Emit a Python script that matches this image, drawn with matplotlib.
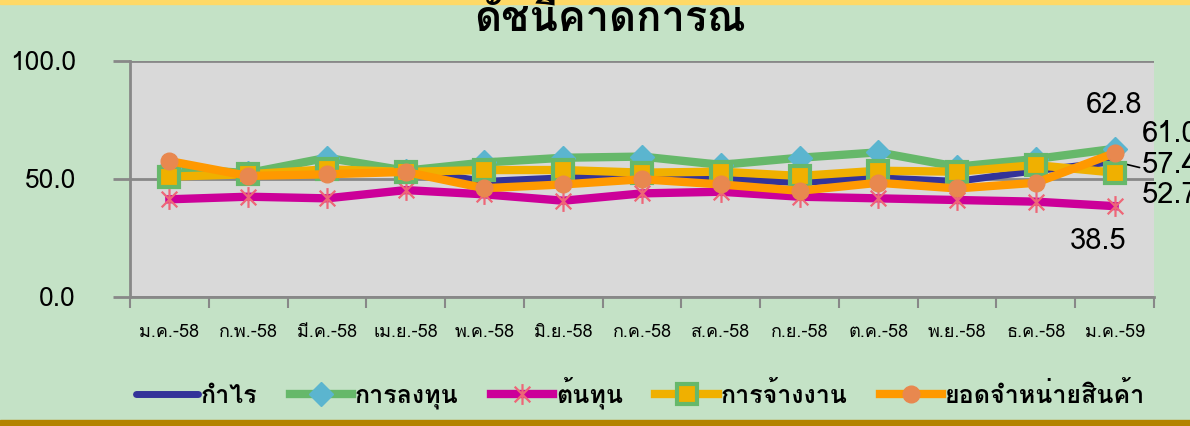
import numpy as np
import matplotlib
matplotlib.use('Agg')
import matplotlib.pyplot as plt
from matplotlib import font_manager
from matplotlib.ft2font import FT2Font
from matplotlib.path import Path
from matplotlib.patches import Rectangle

# pick a font that has Thai glyphs
thai_font = None
cands = []
for f in font_manager.fontManager.ttflist:
    try:
        if 0x0E01 in FT2Font(f.fname).get_charmap():
            cands.append(f.name)
    except Exception:
        pass
for pref in ['Tahoma', 'Loma', 'Noto Sans Thai Looped', 'Noto Sans Thai', 'Garuda', 'Sarabun']:
    if pref in cands:
        thai_font = pref
        break
if thai_font is None and cands:
    thai_font = cands[0]
fams = ([thai_font] if thai_font else []) + ['DejaVu Sans']
plt.rcParams['font.family'] = fams

months = ['ม.ค.-58', 'ก.พ.-58', 'มี.ค.-58', 'เม.ย.-58', 'พ.ค.-58', 'มิ.ย.-58', 'ก.ค.-58',
          'ส.ค.-58', 'ก.ย.-58', 'ต.ค.-58', 'พ.ย.-58', 'ธ.ค.-58', 'ม.ค.-59']
profit = [52.5, 51.5, 53.0, 54.0, 49.0, 50.5, 51.0, 50.0, 48.5, 50.5, 49.0, 53.5, 57.4]
invest = [54.5, 52.5, 59.0, 53.5, 57.0, 59.0, 59.5, 56.0, 59.0, 61.3, 55.2, 58.5, 62.8]
cost = [41.4, 42.5, 41.8, 45.3, 43.5, 40.8, 43.9, 44.6, 42.5, 41.8, 41.1, 40.4, 38.5]
employ = [51.0, 52.0, 54.1, 53.0, 53.8, 53.8, 52.7, 53.1, 51.3, 53.5, 53.1, 55.9, 52.7]
sales = [57.6, 51.3, 52.0, 53.0, 46.1, 47.7, 49.9, 47.7, 45.0, 48.4, 46.0, 48.4, 61.0]
names = ['กำไร', 'การลงทุน', 'ต้นทุน', 'การจ้างงาน', 'ยอดจำหน่ายสินค้า']

bg = '#C4E2C6'
fig = plt.figure(figsize=(11.9, 4.26), dpi=100, facecolor=bg)
ax = fig.add_axes([130/1190, 1-297/426, 1024/1190, 236/426])
ax.set_facecolor('#D9D9D9')

x = np.arange(len(months))
star = Path([(0, -1), (0, 1), (-0.75, -0.75), (0.75, 0.75), (-0.75, 0.75), (0.75, -0.75)],
            [Path.MOVETO, Path.LINETO, Path.MOVETO, Path.LINETO, Path.MOVETO, Path.LINETO])

ax.plot(x, profit, color='#333399', lw=5, solid_capstyle='round', zorder=3, label=names[0])
ax.plot(x, invest, color='#66B86A', lw=6, marker='D', ms=12, mfc='#5BB5CF', mec='#5BB5CF',
        zorder=3, label=names[1])
ax.plot(x, cost, color='#CC0099', lw=6, marker=star, ms=15, mfc='none', mec='#EE6677', mew=1.6,
        zorder=3, label=names[2])
ax.plot(x, employ, color='#F0B000', lw=6, marker='s', ms=15, mfc='#F0B000', mec='#66B86A', mew=3,
        zorder=4, label=names[3])
ax.plot(x, sales, color='#FF9900', lw=6, marker='o', ms=12, mfc='#E8884F', mec='#E8884F',
        zorder=5, label=names[4])

ax.set_xlim(-0.5, len(months) - 0.5)
ax.set_ylim(0, 100)
ax.set_yticks([0, 50, 100])
ax.set_yticklabels(['0.0', '50.0', '100.0'])
ax.yaxis.grid(True, color='#888888', lw=2)
ax.set_axisbelow(True)
ax.set_xticks(x)
ax.set_xticklabels(months, fontsize=13)
ax.set_xticks(np.arange(len(months) + 1) - 0.5, minor=True)
ax.tick_params(axis='x', which='major', length=0, pad=19)
ax.tick_params(axis='x', which='minor', length=8, width=1.5, color='#888888', direction='out')
ax.tick_params(axis='y', length=12, width=2, color='#888888', labelsize=19, pad=27)
for s in ['top', 'right']:
    ax.spines[s].set_visible(False)
for s in ['left', 'bottom']:
    ax.spines[s].set_color('#888888')
    ax.spines[s].set_linewidth(2)

# labels on the last month
last = len(months) - 1
lab = [(invest[last], (0, 44), 'center'), (sales[last], (27, 19), 'left'),
       (profit[last], (27, -3), 'left'), (employ[last], (27, -22), 'left'),
       (cost[last], (-17, -35), 'center')]
for v, off, ha in lab:
    ax.annotate(f'{v:.1f}', (last, v), xytext=off, textcoords='offset pixels', ha=ha, va='center',
                fontsize=21, annotation_clip=False, zorder=6)
ax.annotate('', (last, profit[last]), xytext=(25, -6), textcoords='offset pixels',
            arrowprops=dict(arrowstyle='-', color='black', lw=1.2, shrinkA=0, shrinkB=6))

fig.text(0.513, 1-31/426, 'ดัชนีคาดการณ์', ha='center', va='baseline', fontsize=30, fontweight='bold')

fig.legend(loc='center', bbox_to_anchor=(0.538, 1-393/426), ncol=5, frameon=False,
           handlelength=2.5, handletextpad=0.1, columnspacing=1.3,
           prop={'size': 18, 'weight': 'bold', 'family': fams})

fig.patches.append(Rectangle((0, 1-4/426), 1, 4/426, transform=fig.transFigure,
                             color='#FFD966', zorder=0))
fig.patches.append(Rectangle((0, 0), 1, 6/426, transform=fig.transFigure,
                             color='#B38300', zorder=0))

fig.savefig('out.png', dpi=100, facecolor=bg)
